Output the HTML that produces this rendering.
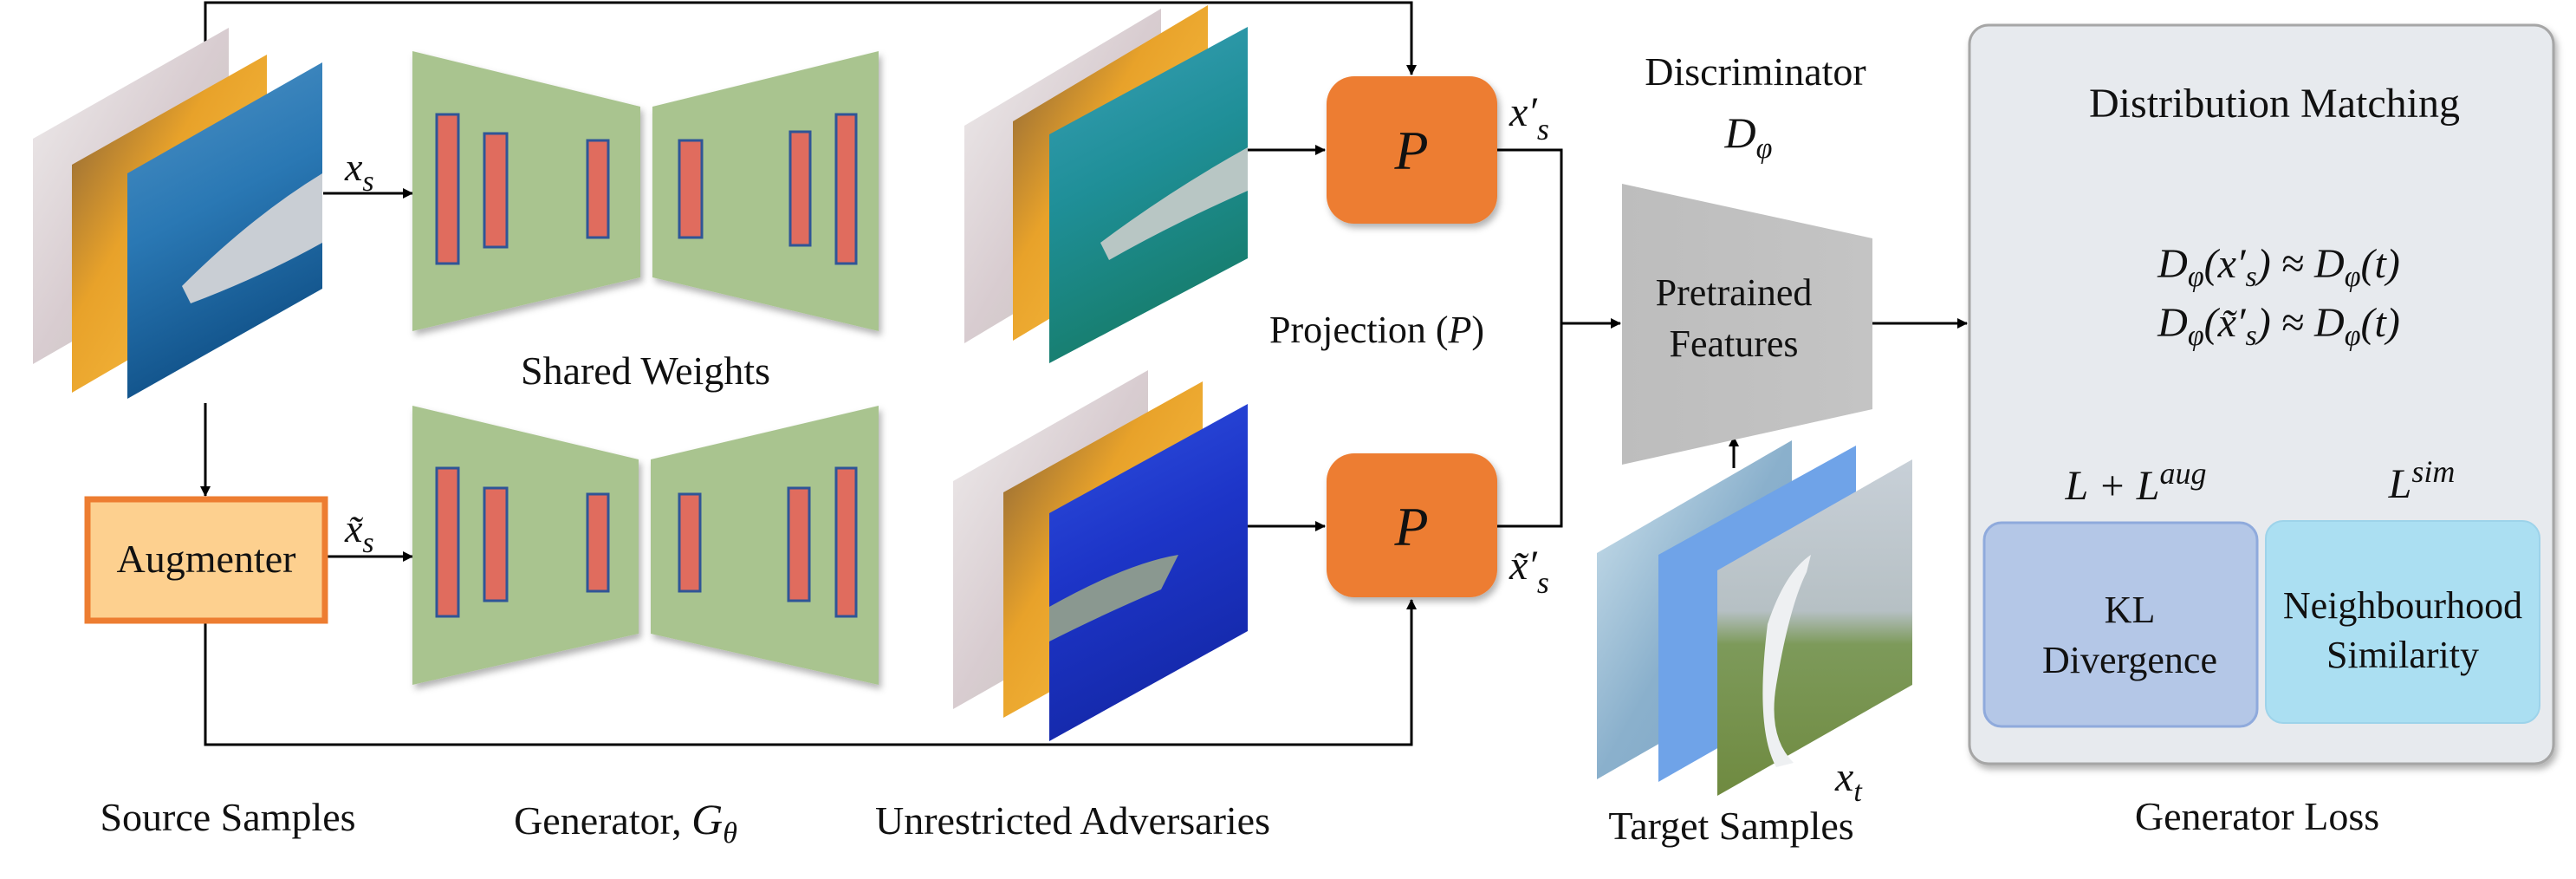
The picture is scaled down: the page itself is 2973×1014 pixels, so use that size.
<!DOCTYPE html>
<html><head><meta charset="utf-8"><style>
html,body{margin:0;padding:0;background:#fff;}
svg{display:block;}
svg text{font-family:"Liberation Serif","DejaVu Serif","Noto Serif CJK SC",serif;}
</style></head><body>
<svg width="2973" height="1014" viewBox="0 0 2973 1014" xmlns="http://www.w3.org/2000/svg" fill="#111">
<defs>
<marker id="ah" markerWidth="12" markerHeight="12" refX="11" refY="6" orient="auto" markerUnits="userSpaceOnUse" viewBox="0 0 12 12">
<path d="M0,0 L12,6 L0,12 z" fill="#000"/></marker>
<linearGradient id="shark" x1="0" y1="0" x2="0.3" y2="1"><stop offset="0" stop-color="#4f93c6"/><stop offset="0.5" stop-color="#2a78b4"/><stop offset="1" stop-color="#0f4f86"/></linearGradient>
<linearGradient id="flower" x1="0" y1="0" x2="1" y2="1"><stop offset="0" stop-color="#7a5a3a"/><stop offset="0.4" stop-color="#e8a22a"/><stop offset="0.7" stop-color="#f3b43a"/><stop offset="1" stop-color="#6a6a3a"/></linearGradient>
<linearGradient id="pale" x1="0" y1="0" x2="1" y2="1"><stop offset="0" stop-color="#f0eeee"/><stop offset="0.5" stop-color="#d8ccd0"/><stop offset="1" stop-color="#c0c4b8"/></linearGradient>
<linearGradient id="adv1" x1="0" y1="0" x2="0.3" y2="1"><stop offset="0" stop-color="#3aa0b8"/><stop offset="0.5" stop-color="#1f8f98"/><stop offset="1" stop-color="#167c6a"/></linearGradient>
<linearGradient id="adv2" x1="0" y1="0" x2="0.3" y2="1"><stop offset="0" stop-color="#2f50e0"/><stop offset="0.5" stop-color="#1d35c8"/><stop offset="1" stop-color="#1428a8"/></linearGradient>
<linearGradient id="t1" x1="0" y1="0" x2="1" y2="1"><stop offset="0" stop-color="#d0e4ee"/><stop offset="0.5" stop-color="#8ab0cc"/><stop offset="1" stop-color="#7fa6c4"/></linearGradient>
<linearGradient id="t3" x1="0" y1="0" x2="0" y2="1"><stop offset="0" stop-color="#c8d0d8"/><stop offset="0.45" stop-color="#b6c0c4"/><stop offset="0.55" stop-color="#7d9a5a"/><stop offset="1" stop-color="#6f8a40"/></linearGradient>
<linearGradient id="gray" x1="0" y1="0" x2="1" y2="0"><stop offset="0" stop-color="#bdbdbd"/><stop offset="1" stop-color="#c4c4c4"/></linearGradient>
<filter id="sh" x="-10%" y="-10%" width="130%" height="130%"><feDropShadow dx="3" dy="5" stdDeviation="4" flood-color="#000" flood-opacity="0.3"/></filter>
</defs>

<g stroke="#000" stroke-width="3" fill="none">
<polyline points="237,160 237,3 1629,3 1629,86" marker-end="url(#ah)"/>
<line x1="237" y1="465" x2="237" y2="572" marker-end="url(#ah)"/>
<polyline points="237,718 237,859 1629,859 1629,692" marker-end="url(#ah)"/>
<line x1="373" y1="223" x2="476" y2="223" marker-end="url(#ah)"/>
<line x1="376" y1="642" x2="476" y2="642" marker-end="url(#ah)"/>
<line x1="1440" y1="173" x2="1529" y2="173" marker-end="url(#ah)"/>
<line x1="1440" y1="607" x2="1529" y2="607" marker-end="url(#ah)"/>
<polyline points="1728,173 1802,173 1802,607 1728,607"/>
<line x1="1802" y1="373" x2="1870" y2="373" marker-end="url(#ah)"/>
<line x1="2161" y1="373" x2="2270" y2="373" marker-end="url(#ah)"/>
<line x1="2001" y1="540" x2="2001" y2="504" marker-end="url(#ah)"/>
</g>

<polygon points="38,160 264,32 264,290 38,420" fill="url(#pale)"/>
<polygon points="83,190 308,63 308,322 83,453" fill="url(#flower)"/>
<polygon points="147,200 372,72 372,333 147,460" fill="url(#shark)"/>
<path d="M210,330 Q290,250 372,200 L372,280 Q300,320 220,350 z" fill="#c9ced4"/>
<text x="398" y="208" font-size="46" font-style="italic">x<tspan font-size="34" dy="12">s</tspan></text>
<text x="398" y="625" font-size="46" font-style="italic">x̃<tspan font-size="34" dy="12">s</tspan></text>

<rect x="101" y="576" width="274" height="140" fill="#fdd08f" stroke="#ed7d31" stroke-width="7"/>
<text x="238" y="660" font-size="46" text-anchor="middle">Augmenter</text>

<g filter="url(#sh)" fill="#a9c48f">
<polygon points="476,59 739,123 739,320 476,382"/>
<polygon points="753,123 1014,59 1014,382 753,320"/>
<polygon points="476,468 737,530 737,731 476,790"/>
<polygon points="751,530 1014,468 1014,790 751,731"/>
</g>
<g fill="#e06c5e" stroke="#2f5597" stroke-width="3">
<rect x="504" y="132" width="25" height="172"/><rect x="559" y="154" width="26" height="131"/><rect x="678" y="162" width="24" height="112"/>
<rect x="784" y="162" width="26" height="112"/><rect x="912" y="152" width="23" height="131"/><rect x="965" y="132" width="23" height="172"/>
<rect x="504" y="540" width="25" height="171"/><rect x="559" y="563" width="26" height="130"/><rect x="678" y="570" width="24" height="112"/>
<rect x="784" y="570" width="24" height="112"/><rect x="910" y="563" width="24" height="130"/><rect x="965" y="540" width="23" height="171"/>
</g>
<text x="745" y="443" font-size="46" text-anchor="middle">Shared Weights</text>

<polygon points="1113,145 1340,10 1340,260 1113,396" fill="url(#pale)"/>
<polygon points="1169,140 1394,6 1394,258 1169,393" fill="url(#flower)"/>
<polygon points="1211,155 1440,31 1440,298 1211,419" fill="url(#adv1)"/>
<path d="M1270,280 Q1350,220 1440,170 L1440,220 Q1350,260 1280,300 z" fill="#b8c6c4"/>
<polygon points="1100,555 1325,427 1325,690 1100,818" fill="url(#pale)"/>
<polygon points="1158,568 1388,440 1388,700 1158,828" fill="url(#flower)"/>
<polygon points="1211,592 1440,466 1440,728 1211,855" fill="url(#adv2)"/>
<path d="M1211,700 Q1300,650 1360,640 L1340,680 Q1270,710 1211,740 z" fill="#8a9890"/>

<rect x="1531" y="88" width="197" height="170" rx="32" fill="#ed7d31" filter="url(#sh)"/>
<rect x="1531" y="523" width="197" height="166" rx="32" fill="#ed7d31" filter="url(#sh)"/>
<text x="1629" y="195" font-size="64" text-anchor="middle" font-style="italic">P</text>
<text x="1629" y="629" font-size="64" text-anchor="middle" font-style="italic">P</text>
<text x="1742" y="145" font-size="48" font-style="italic">x′<tspan font-size="36" dy="16">s</tspan></text>
<text x="1742" y="668" font-size="48" font-style="italic">x̃′<tspan font-size="36" dy="16">s</tspan></text>
<text x="1465" y="395" font-size="44">Projection (<tspan font-style="italic">P</tspan>)</text>

<text x="2026" y="98" font-size="46" text-anchor="middle">Discriminator</text>
<text x="2018" y="170" font-size="50" text-anchor="middle" font-style="italic">D<tspan font-size="34" dy="12">φ</tspan></text>
<polygon points="1872,212 2161,275 2161,472 1872,536" fill="url(#gray)"/>
<text x="2001" y="352" font-size="44" text-anchor="middle">Pretrained</text>
<text x="2001" y="411" font-size="44" text-anchor="middle">Features</text>

<polygon points="1843,638 2068,508 2068,770 1843,899" fill="url(#t1)"/>
<polygon points="1914,640 2142,514 2142,772 1914,902" fill="#6fa3e8"/>
<polygon points="1982,658 2207,530 2207,790 1982,918" fill="url(#t3)"/>
<path d="M2040,720 Q2060,660 2090,640 L2085,660 Q2065,700 2050,790 Q2040,850 2070,880 L2050,885 Q2025,840 2040,720 z" fill="#eef0f2"/>
<text x="2118" y="912" font-size="48" font-style="italic">x<tspan font-size="34" dy="12">t</tspan></text>
<text x="1998" y="968" font-size="46" text-anchor="middle">Target Samples</text>

<rect x="2273" y="29" width="674" height="852" rx="22" fill="#e7eaee" stroke="#a6a6a6" stroke-width="3" filter="url(#sh)"/>
<text x="2625" y="135" font-size="48" text-anchor="middle">Distribution Matching</text>
<text x="2630" y="320" font-size="48" text-anchor="middle" font-style="italic">D<tspan font-size="34" dy="10">φ</tspan><tspan dy="-10">(x′</tspan><tspan font-size="34" dy="10">s</tspan><tspan dy="-10">) ≈ D</tspan><tspan font-size="34" dy="10">φ</tspan><tspan dy="-10">(t)</tspan></text>
<text x="2630" y="388" font-size="48" text-anchor="middle" font-style="italic">D<tspan font-size="34" dy="10">φ</tspan><tspan dy="-10">(x̃′</tspan><tspan font-size="34" dy="10">s</tspan><tspan dy="-10">) ≈ D</tspan><tspan font-size="34" dy="10">φ</tspan><tspan dy="-10">(t)</tspan></text>
<text x="2465" y="576" font-size="48" text-anchor="middle" font-style="italic">L + L<tspan font-size="36" dy="-18">aug</tspan></text>
<text x="2795" y="574" font-size="48" text-anchor="middle" font-style="italic">L<tspan font-size="36" dy="-18">sim</tspan></text>
<rect x="2290" y="603" width="315" height="235" rx="20" fill="#b4c7e7" stroke="#8faadc" stroke-width="3"/>
<rect x="2615" y="601" width="316" height="233" rx="20" fill="#abdff2" stroke="#9dd3ea" stroke-width="2"/>
<text x="2458" y="718" font-size="44" text-anchor="middle">KL</text>
<text x="2458" y="776" font-size="44" text-anchor="middle">Divergence</text>
<text x="2773" y="713" font-size="44" text-anchor="middle">Neighbourhood</text>
<text x="2773" y="770" font-size="44" text-anchor="middle">Similarity</text>
<text x="2605" y="957" font-size="46" text-anchor="middle">Generator Loss</text>

<text x="263" y="958" font-size="46" text-anchor="middle">Source Samples</text>
<text x="722" y="962" font-size="46" text-anchor="middle">Generator,  <tspan font-style="italic" font-size="50">G</tspan><tspan font-style="italic" font-size="34" dy="10">θ</tspan></text>
<text x="1010" y="962" font-size="46">Unrestricted Adversaries</text>
</svg>
</body></html>
